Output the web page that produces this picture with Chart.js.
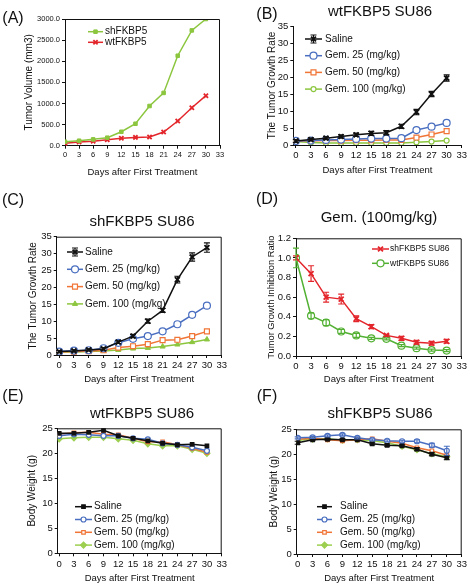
<!DOCTYPE html>
<html>
<head>
<meta charset="utf-8">
<script src="https://cdn.jsdelivr.net/npm/chart.js@4.4.1/dist/chart.umd.min.js"></script>
<style>
  html, body { margin: 0; padding: 0; background: #fff; }
  #page { position: relative; width: 470px; height: 586px; overflow: hidden; font-family: 'Liberation Sans', Arial, sans-serif; color: #111; }
  #page canvas { position: absolute; left: 0; top: 0; }
  .lbl { position: absolute; transform: translate(-50%, -50%); white-space: nowrap; }
  .letter { font-size: 16px; }
  .title { font-size: 15px; }
</style>
</head>
<body>
<div id="page">
  <canvas id="chA" width="470" height="586"></canvas>
  <canvas id="chB" width="470" height="586"></canvas>
  <canvas id="chC" width="470" height="586"></canvas>
  <canvas id="chD" width="470" height="586"></canvas>
  <canvas id="chE" width="470" height="586"></canvas>
  <canvas id="chF" width="470" height="586"></canvas>

  <div class="lbl letter" style="left:13px;top:18px">(A)</div>
  <div class="lbl letter" style="left:267px;top:14px">(B)</div>
  <div class="lbl letter" style="left:13px;top:200px">(C)</div>
  <div class="lbl letter" style="left:267px;top:199px">(D)</div>
  <div class="lbl letter" style="left:13px;top:396px">(E)</div>
  <div class="lbl letter" style="left:267px;top:396px">(F)</div>

  <div class="lbl title" style="left:380px;top:10px">wtFKBP5 SU86</div>
  <div class="lbl title" style="left:142px;top:220px">shFKBP5 SU86</div>
  <div class="lbl title" style="left:379px;top:216px">Gem. (100mg/kg)</div>
  <div class="lbl title" style="left:142px;top:412px">wtFKBP5 SU86</div>
  <div class="lbl title" style="left:380px;top:412px">shFKBP5 SU86</div>
</div>
<script>
// days after first treatment, shared by every panel
var days = [0, 3, 6, 9, 12, 15, 18, 21, 24, 27, 30];
var dayTicks = [0, 3, 6, 9, 12, 15, 18, 21, 24, 27, 30, 33];

// (A) tumor volume, mm3
var volumeTicks = [0, 500, 1000, 1500, 2000, 2500, 3000];
var volumeSh = [95, 118, 150, 190, 330, 520, 940, 1250, 2130, 2730, 3000];
var volumeWt = [55, 87, 103, 142, 174, 197, 205, 324, 584, 900, 1184];

// (B) wtFKBP5 SU86 growth rate
var rateTicks = [0, 5, 10, 15, 20, 25, 30, 35];
var wtSaline = [1.2, 1.6, 2.0, 2.5, 3.0, 3.4, 3.6, 5.5, 9.7, 15.0, 19.7];
var wtSalineErr = [0.4, 0.4, 0.4, 0.5, 0.5, 0.6, 0.6, 0.6, 0.8, 0.8, 0.9];
var wtGem25 = [1.2, 1.3, 1.5, 1.6, 1.8, 1.9, 1.9, 2.0, 4.4, 5.4, 6.5];
var wtGem50 = [1.2, 1.2, 1.3, 1.3, 1.4, 1.4, 1.5, 1.5, 2.2, 3.1, 4.1];
var wtGem100 = [1.0, 0.7, 0.6, 0.6, 0.6, 0.6, 0.6, 0.6, 0.8, 1.0, 1.3];

// (C) shFKBP5 SU86 growth rate
var shSaline = [1.0, 1.2, 1.5, 1.8, 3.8, 5.6, 10.0, 13.2, 22.3, 29.0, 31.8];
var shSalineErr = [0.3, 0.3, 0.3, 0.4, 0.4, 0.5, 0.6, 0.6, 1.0, 1.2, 1.4];
var shGem25 = [1.0, 1.3, 1.4, 2.0, 3.6, 4.8, 5.6, 7.0, 9.1, 11.9, 14.6];
var shGem50 = [0.9, 1.0, 1.1, 1.4, 2.2, 2.6, 3.2, 4.4, 4.5, 5.6, 7.0];
var shGem100 = [0.9, 0.9, 1.0, 1.2, 1.5, 1.9, 2.1, 2.5, 3.1, 3.8, 4.6];

// (D) inhibition ratio at Gem. 100 mg/kg
var ratioTicks = [0, 0.2, 0.4, 0.6, 0.8, 1.0, 1.2];
var inhibSh = [1.0, 0.84, 0.60, 0.58, 0.38, 0.30, 0.21, 0.18, 0.14, 0.13, 0.15];
var inhibShErr = [0.02, 0.08, 0.05, 0.05, 0.03, 0.02, 0.01, 0.02, 0.02, 0.02, 0.02];
var inhibWt = [1.0, 0.41, 0.34, 0.25, 0.21, 0.18, 0.175, 0.105, 0.08, 0.06, 0.055];
var inhibWtErr = [0.1, 0.03, 0.03, 0.02, 0.02, 0.01, 0.01, 0.01, 0.01, 0.01, 0.01];

// (E) wtFKBP5 body weight, g
var weightTicks = [0, 5, 10, 15, 20, 25];
var bwWtSaline = [24.0, 24.0, 24.2, 24.6, 23.5, 23.0, 22.5, 22.0, 21.7, 21.8, 21.5];
var bwWtGem25 = [23.5, 23.8, 23.7, 23.5, 23.5, 23.0, 22.8, 22.0, 21.7, 21.2, 20.5];
var bwWtGem50 = [23.8, 24.1, 24.2, 23.8, 23.7, 23.0, 22.3, 22.3, 21.7, 21.0, 20.2];
var bwWtGem100 = [22.9, 23.1, 23.2, 23.2, 22.9, 22.6, 21.9, 21.5, 21.5, 20.8, 20.0];

// (F) shFKBP5 body weight, g
var bwShSaline = [22.3, 22.9, 23.0, 22.9, 22.9, 22.1, 21.8, 21.7, 21.0, 20.0, 19.3];
var bwShSalineErr = [0.3, 0.2, 0.2, 0.2, 0.2, 0.2, 0.2, 0.2, 0.3, 0.3, 0.4];
var bwShGem25 = [23.3, 23.4, 23.7, 23.9, 23.3, 22.9, 22.7, 22.6, 22.6, 21.8, 20.7];
var bwShGem25Err = [0.2, 0.2, 0.2, 0.2, 0.2, 0.2, 0.2, 0.2, 0.3, 0.4, 0.9];
var bwShGem50 = [23.0, 23.2, 22.9, 22.7, 22.9, 23.1, 22.6, 22.2, 21.3, 20.7, 19.8];
var bwShGem100 = [22.8, 23.0, 23.1, 22.8, 22.9, 22.7, 22.3, 21.6, 20.9, 20.1, 19.5];

var INK = '#111';
var BLUE = '#4a6fc0';
var ORANGE = '#f07536';
var GREEN = '#8cc63f';
var RED = '#e3262c';

Chart.defaults.font.family = "'Liberation Sans', Arial, sans-serif";
Chart.defaults.color = INK;

function series(label, vals, st, errs) {
    return {
        label: label,
        data: vals.map(function (v, i) { return { x: days[i], y: v }; }),
        borderColor: st.color,
        backgroundColor: st.color,
        borderWidth: st.lw || 1.5,
        pointStyle: st.shape,
        pointRadius: st.r,
        pointBorderWidth: st.pbw || 1.2,
        pointBorderColor: st.color,
        pointBackgroundColor: st.open ? '#fff' : st.color,
        errors: errs || null,
        tension: 0
    };
}

function drawMarker(ctx, ds, x, y) {
    ctx.fillStyle = ds.pointBackgroundColor;
    ctx.strokeStyle = ds.pointBorderColor;
    ctx.lineWidth = ds.pointBorderWidth;
    if (Chart.helpers && Chart.helpers.drawPoint) {
        Chart.helpers.drawPoint(ctx, { pointStyle: ds.pointStyle, radius: ds.pointRadius, borderWidth: ds.pointBorderWidth, rotation: 0 }, x, y);
    } else {
        ctx.beginPath();
        ctx.arc(x, y, ds.pointRadius, 0, Math.PI * 2);
        ctx.fill();
        ctx.stroke();
    }
}

// error bars, top/right frame and the legend inside the plot
var extrasPlugin = {
    id: 'extras',
    afterDatasetsDraw: function (chart) {
        var ctx = chart.ctx, xs = chart.scales.x, ys = chart.scales.y;
        chart.data.datasets.forEach(function (ds) {
            if (!ds.errors) return;
            ctx.save();
            ctx.strokeStyle = ds.borderColor;
            ctx.lineWidth = 1.2;
            ds.data.forEach(function (p, j) {
                var e = ds.errors[j];
                if (!e) return;
                var px = xs.getPixelForValue(p.x);
                var top = ys.getPixelForValue(p.y + e);
                var bot = ys.getPixelForValue(p.y - e);
                ctx.beginPath();
                ctx.moveTo(px, top); ctx.lineTo(px, bot);
                ctx.moveTo(px - 3, top); ctx.lineTo(px + 3, top);
                ctx.moveTo(px - 3, bot); ctx.lineTo(px + 3, bot);
                ctx.stroke();
            });
            ctx.restore();
        });
    },
    afterDraw: function (chart, args, opts) {
        var ctx = chart.ctx, a = chart.chartArea;
        if (opts.frame) {
            ctx.save();
            ctx.strokeStyle = INK;
            ctx.lineWidth = 1;
            ctx.beginPath();
            ctx.moveTo(a.left, a.top + 0.5);
            ctx.lineTo(a.right - 0.5, a.top + 0.5);
            ctx.lineTo(a.right - 0.5, a.bottom);
            ctx.stroke();
            ctx.restore();
        }
        var lg = opts.legend;
        if (!lg) return;
        ctx.save();
        ctx.font = lg.size + "px 'Liberation Sans', Arial, sans-serif";
        ctx.textBaseline = 'middle';
        ctx.textAlign = 'left';
        chart.data.datasets.forEach(function (ds, i) {
            var y = lg.y + i * lg.dy;
            ctx.strokeStyle = ds.borderColor;
            ctx.lineWidth = ds.borderWidth;
            ctx.beginPath();
            ctx.moveTo(lg.x, y);
            ctx.lineTo(lg.x + lg.len, y);
            ctx.stroke();
            var mx = lg.x + lg.len / 2;
            if (ds.errors && lg.caps) {
                ctx.lineWidth = 1.2;
                ctx.beginPath();
                ctx.moveTo(mx, y - 4); ctx.lineTo(mx, y + 4);
                ctx.moveTo(mx - 3, y - 4); ctx.lineTo(mx + 3, y - 4);
                ctx.moveTo(mx - 3, y + 4); ctx.lineTo(mx + 3, y + 4);
                ctx.stroke();
            }
            drawMarker(ctx, ds, mx, y);
            ctx.fillStyle = INK;
            ctx.fillText(ds.label, lg.x + lg.len + lg.gap, y);
        });
        ctx.restore();
    }
};

function panel(id, cfg) {
    var area = cfg.area; // left, top, right, bottom of the plot
    var fixY = function (s) { s.width = cfg.yw; s.paddingTop = 0; s.paddingBottom = 0; s.paddingLeft = 0; s.paddingRight = 0; };
    var fixX = function (s) { s.height = cfg.xh; s.paddingTop = 0; s.paddingBottom = 0; s.paddingLeft = 0; s.paddingRight = 0; };
    var axisGrid = { display: true, drawOnChartArea: false, drawTicks: true, tickLength: 3, color: INK, lineWidth: 1 };
    new Chart(document.getElementById(id), {
        type: 'line',
        data: { datasets: cfg.datasets },
        options: {
            responsive: false,
            animation: false,
            devicePixelRatio: 1,
            layout: { padding: { left: area[0] - cfg.yw, top: area[1], right: 470 - area[2], bottom: 586 - area[3] - cfg.xh } },
            plugins: {
                legend: { display: false },
                tooltip: { enabled: false },
                extras: { frame: cfg.frame, legend: cfg.legend }
            },
            scales: {
                x: {
                    type: 'linear',
                    min: cfg.xMin,
                    max: 33,
                    afterBuildTicks: function (s) { s.ticks = dayTicks.map(function (v) { return { value: v }; }); },
                    afterFit: fixX,
                    grid: axisGrid,
                    border: { display: true, color: INK, width: 1 },
                    ticks: { font: { size: cfg.tick }, color: INK, padding: 2, autoSkip: false, maxRotation: 0, callback: function (v) { return v; } },
                    title: { display: true, text: 'Days after First Treatment', font: { size: 9.5 }, color: INK, padding: 0 }
                },
                y: {
                    min: cfg.yTicks[0],
                    max: cfg.yTicks[cfg.yTicks.length - 1],
                    afterBuildTicks: function (s) { s.ticks = cfg.yTicks.map(function (v) { return { value: v }; }); },
                    afterFit: fixY,
                    grid: axisGrid,
                    border: { display: true, color: INK, width: 1 },
                    ticks: { font: { size: cfg.tick }, color: INK, padding: 2, autoSkip: false, callback: cfg.yFmt || function (v) { return v; } },
                    title: { display: true, text: cfg.yTitle, font: { size: cfg.yTitleSize || 10 }, color: INK, padding: 0 }
                }
            }
        },
        plugins: [extrasPlugin]
    });
}

var fixed1 = function (v) { return v.toFixed(1); };

// marker styles
var sSaline = { color: INK, shape: 'crossRot', r: 3.5, pbw: 1.8 };
var s25 = { color: BLUE, shape: 'circle', r: 3.5, open: true };
var s50 = { color: ORANGE, shape: 'rect', r: 3.5, open: true };
var s100 = { color: GREEN, shape: 'circle', r: 2.5, open: true };
var s100c = { color: GREEN, shape: 'triangle', r: 3, pbw: 1 };
var wSaline = { color: INK, shape: 'rect', r: 2.5 };
var w25 = { color: BLUE, shape: 'circle', r: 2.5, open: true };
var w50 = { color: ORANGE, shape: 'rect', r: 2.5, open: true };
var w100 = { color: '#9ccf4f', shape: 'rectRot', r: 3 };

panel('chA', {
    area: [65, 19, 220, 145.7], yw: 42, xh: 32, xMin: 0, tick: 7.5, frame: true,
    yTicks: volumeTicks, yFmt: fixed1, yTitle: 'Tumor Volume (mm3)',
    legend: { x: 88, y: 31.7, dy: 10.6, len: 15, gap: 2, size: 10 },
    datasets: [
        series('shFKBP5', volumeSh, { color: GREEN, shape: 'rect', r: 2.5, pbw: 1 }),
        series('wtFKBP5', volumeWt, { color: RED, shape: 'crossRot', r: 3, pbw: 1.8 })
    ]
});

panel('chB', {
    area: [293.3, 26, 461.7, 145], yw: 27.3, xh: 30.7, xMin: -0.5, tick: 9.5, frame: false,
    yTicks: rateTicks, yTitle: 'The Tumor Growth Rate',
    legend: { x: 305, y: 39, dy: 16.7, len: 17, gap: 3, size: 10, caps: true },
    datasets: [
        series('Saline', wtSaline, sSaline, wtSalineErr),
        series('Gem. 25 (mg/kg)', wtGem25, s25),
        series('Gem. 50 (mg/kg)', wtGem50, s50),
        series('Gem. 100 (mg/kg)', wtGem100, s100)
    ]
});

panel('chC', {
    area: [56.7, 236.7, 221.7, 355], yw: 29.7, xh: 29.7, xMin: -0.5, tick: 9.5, frame: true,
    yTicks: rateTicks, yTitle: 'The Tumor Growth Rate',
    legend: { x: 67, y: 252, dy: 17.3, len: 16, gap: 2, size: 10, caps: true },
    datasets: [
        series('Saline', shSaline, sSaline, shSalineErr),
        series('Gem. 25 (mg/kg)', shGem25, s25),
        series('Gem. 50 (mg/kg)', shGem50, s50),
        series('Gem. 100 (mg/kg)', shGem100, s100c)
    ]
});

panel('chD', {
    area: [296, 238.3, 461.7, 356], yw: 30.6, xh: 28.7, xMin: 0, tick: 9.5, frame: true,
    yTicks: ratioTicks, yFmt: fixed1, yTitle: 'Tumor Growth Inhibition Ratio', yTitleSize: 9.3,
    legend: { x: 372, y: 249, dy: 14.3, len: 17, gap: 1, size: 8.5 },
    datasets: [
        series('shFKBP5 SU86', inhibSh, { color: RED, shape: 'crossRot', r: 3.5, pbw: 1.8 }, inhibShErr),
        series('wtFKBP5 SU86', inhibWt, { color: '#52b033', shape: 'circle', r: 3.5, open: true }, inhibWtErr)
    ]
});

panel('chE', {
    area: [57.7, 428.3, 221.7, 553.3], yw: 31.7, xh: 30.4, xMin: -0.3, tick: 9.5, frame: true,
    yTicks: weightTicks, yTitle: 'Body Weight (g)',
    legend: { x: 75, y: 506.7, dy: 12.8, len: 17, gap: 2, size: 10 },
    datasets: [
        series('Saline', bwWtSaline, wSaline),
        series('Gem. 25 (mg/kg)', bwWtGem25, w25),
        series('Gem. 50 (mg/kg)', bwWtGem50, w50),
        series('Gem. 100 (mg/kg)', bwWtGem100, w100)
    ]
});

panel('chF', {
    area: [296.7, 429.3, 461.7, 554], yw: 28.7, xh: 29.7, xMin: -0.2, tick: 9.5, frame: true,
    yTicks: weightTicks, yTitle: 'Body Weight (g)',
    legend: { x: 317, y: 506.7, dy: 12.8, len: 15, gap: 8, size: 10 },
    datasets: [
        series('Saline', bwShSaline, wSaline, bwShSalineErr),
        series('Gem. 25 (mg/kg)', bwShGem25, w25, bwShGem25Err),
        series('Gem. 50 (mg/kg)', bwShGem50, w50),
        series('Gem. 100 (mg/kg)', bwShGem100, w100)
    ]
});
</script>
</body>
</html>
